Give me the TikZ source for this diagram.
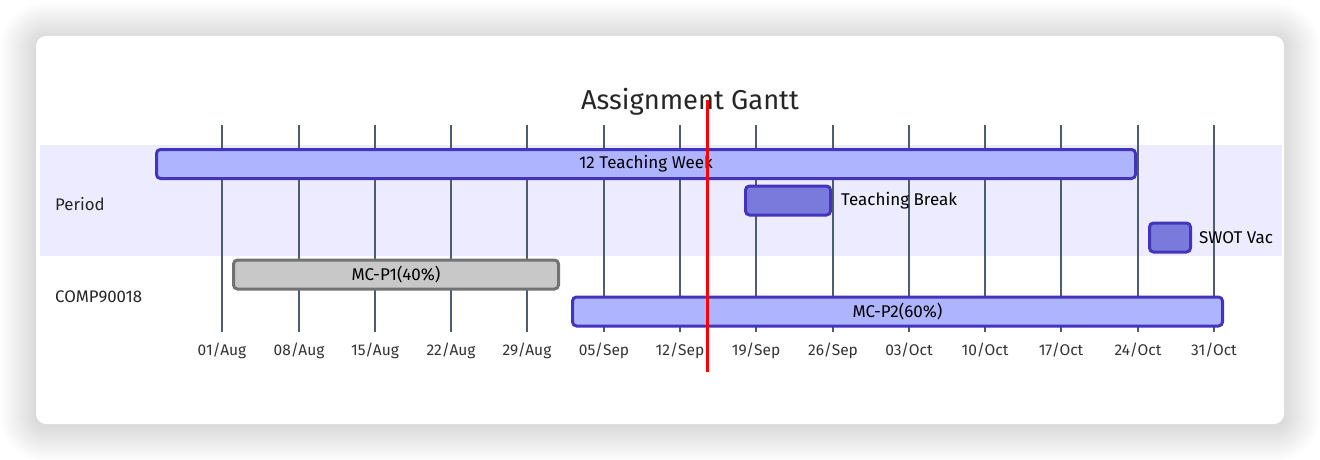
\documentclass[tikz,border=0pt]{standalone}
\usepackage{fontspec}
\setmainfont{Fira Sans}
\definecolor{band}{HTML}{ECEBFF}
\definecolor{actfill}{HTML}{AFB4FF}
\definecolor{taskfill}{HTML}{7A7ADC}
\definecolor{taskborder}{HTML}{4334BD}
\definecolor{donefill}{HTML}{C8C8C8}
\definecolor{doneborder}{HTML}{737373}
\definecolor{gridc}{HTML}{4F5B6E}
\definecolor{labc}{HTML}{333333}
\tikzset{
  bar/.style={draw=taskborder, line width=3pt, rounded corners=4pt, inner sep=0pt, minimum height=29pt, font=\fontsize{17}{20}\selectfont},
  activebar/.style={bar, fill=actfill},
  taskbar/.style={bar, fill=taskfill},
  donebar/.style={bar, fill=donefill, draw=doneborder},
  gridline/.style={draw=gridc, line width=1.5pt},
  ticklab/.style={text=labc, font=\fontsize{15.5}{18}\selectfont, inner sep=0pt},
  seclab/.style={anchor=west, inner sep=0pt, font=\fontsize{16.8}{20}\selectfont, text=black!85},
  outlab/.style={anchor=west, inner sep=0pt, font=\fontsize{17}{20}\selectfont},
}
\begin{document}
\begin{tikzpicture}[x=1pt,y=-1pt]
\useasboundingbox (0,0) rectangle (1320,460);
\fill[white] (0,0) rectangle (1320,460);
% shadow
\foreach \i in {1,...,36}{
  \fill[black, opacity=0.005, rounded corners={10pt+\i pt}] (36-\i,38-\i) rectangle (1284+\i,426+\i);
}
\fill[white, rounded corners=10pt] (36,36) rectangle (1284,424);
% section band
\fill[band] (40,145) rectangle (1282,256);
% grid
\foreach \x/\l [count=\k] in {222/{01/Aug},299/{08/Aug},375/{15/Aug},451/{22/Aug},527/{29/Aug},604/{05/Sep},680/{12/Sep},756/{19/Sep},833/{26/Sep},909/{03/Oct},985/{10/Oct},1061/{17/Oct},1138/{24/Oct},1214/{31/Oct}}{
  \coordinate (gt\k) at (\x,125);
  \coordinate (gb\k) at (\x,332);
  \draw[gridline] (gt\k) -- (gb\k);
  \node[ticklab, anchor=base] (tl\k) at (\x,355) {\l};
}
% title
\node[anchor=base, inner sep=0pt, font=\fontsize{27.3}{32}\selectfont, text=black!85] (title) at (690,110) {Assignment Gantt};
% section labels
\node[seclab] (period) at (55,204) {Period};
\node[seclab] (comp) at (55,297) {COMP90018};
% bars
\node[activebar, minimum width=979pt] (tw) at (646,164) {12 Teaching Week};
\node[taskbar, minimum width=85pt] (tb) at (788,200.5) {};
\node[outlab] (tbl) at (841,200.5) {Teaching Break};
\node[taskbar, minimum width=41pt] (sv) at (1170,237.5) {};
\node[outlab] (svl) at (1199,237.5) {SWOT Vac};
\node[donebar, minimum width=325pt] (p1) at (396,274.5) {MC-P1(40\%)};
\node[activebar, minimum width=650pt] (p2) at (897.5,311.5) {MC-P2(60\%)};
% today line
\coordinate (td1) at (707,100);
\coordinate (td2) at (707,372);
\draw[red, line width=3pt] (td1) -- (td2);
\end{tikzpicture}
\end{document}
